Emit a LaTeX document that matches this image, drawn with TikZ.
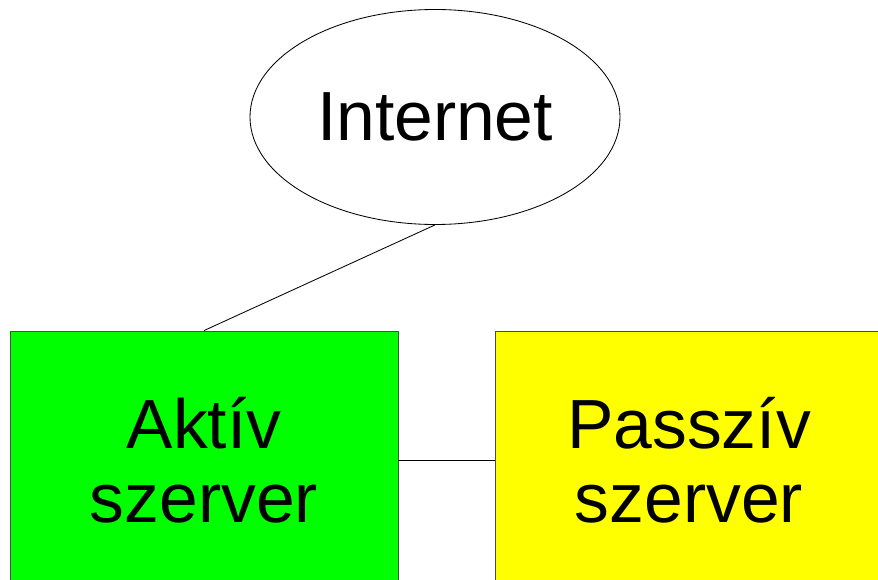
\documentclass[tikz,border=0pt]{standalone}
\usepackage{fontspec}
\setmainfont{Liberation Sans}
\usepackage{tikz}
\usetikzlibrary{shapes}
\definecolor{passiv_yellow}{RGB}{255,255,0}
\definecolor{aktiv_green}{RGB}{0,255,0}

\begin{document}
\begin{tikzpicture}[line width=0.6pt,
        net_style/.style={ellipse,draw=black,fill=white,minimum width=9.25cm,minimum height=5.375cm,inner sep=0pt,font=\fontsize{49.5}{53}\selectfont},
        server_style/.style={rectangle,draw=black!70,minimum width=9.7cm,minimum height=6.45cm,inner sep=0pt,align=center,font=\fontsize{49.5}{53}\selectfont},
        edge_style/.style={draw=black,line width=0.6pt}]

        \useasboundingbox (0,0) rectangle (21.95,-14.5);
        \clip (0,0) rectangle (21.95,-14.5);

        \node [net_style](inet) at (10.875,-2.925) {Internet};

        \node [server_style,fill=aktiv_green](aktiv) at (5.1,-11.5) {Aktív\\szerver};

        \node [server_style,fill=passiv_yellow](passziv) at (17.225,-11.5) {Passzív\\szerver};

        \draw [edge_style] (inet.south) -- (aktiv.north);

        \draw [edge_style] (aktiv) -- (passziv);

        \end{tikzpicture}
\end{document}
